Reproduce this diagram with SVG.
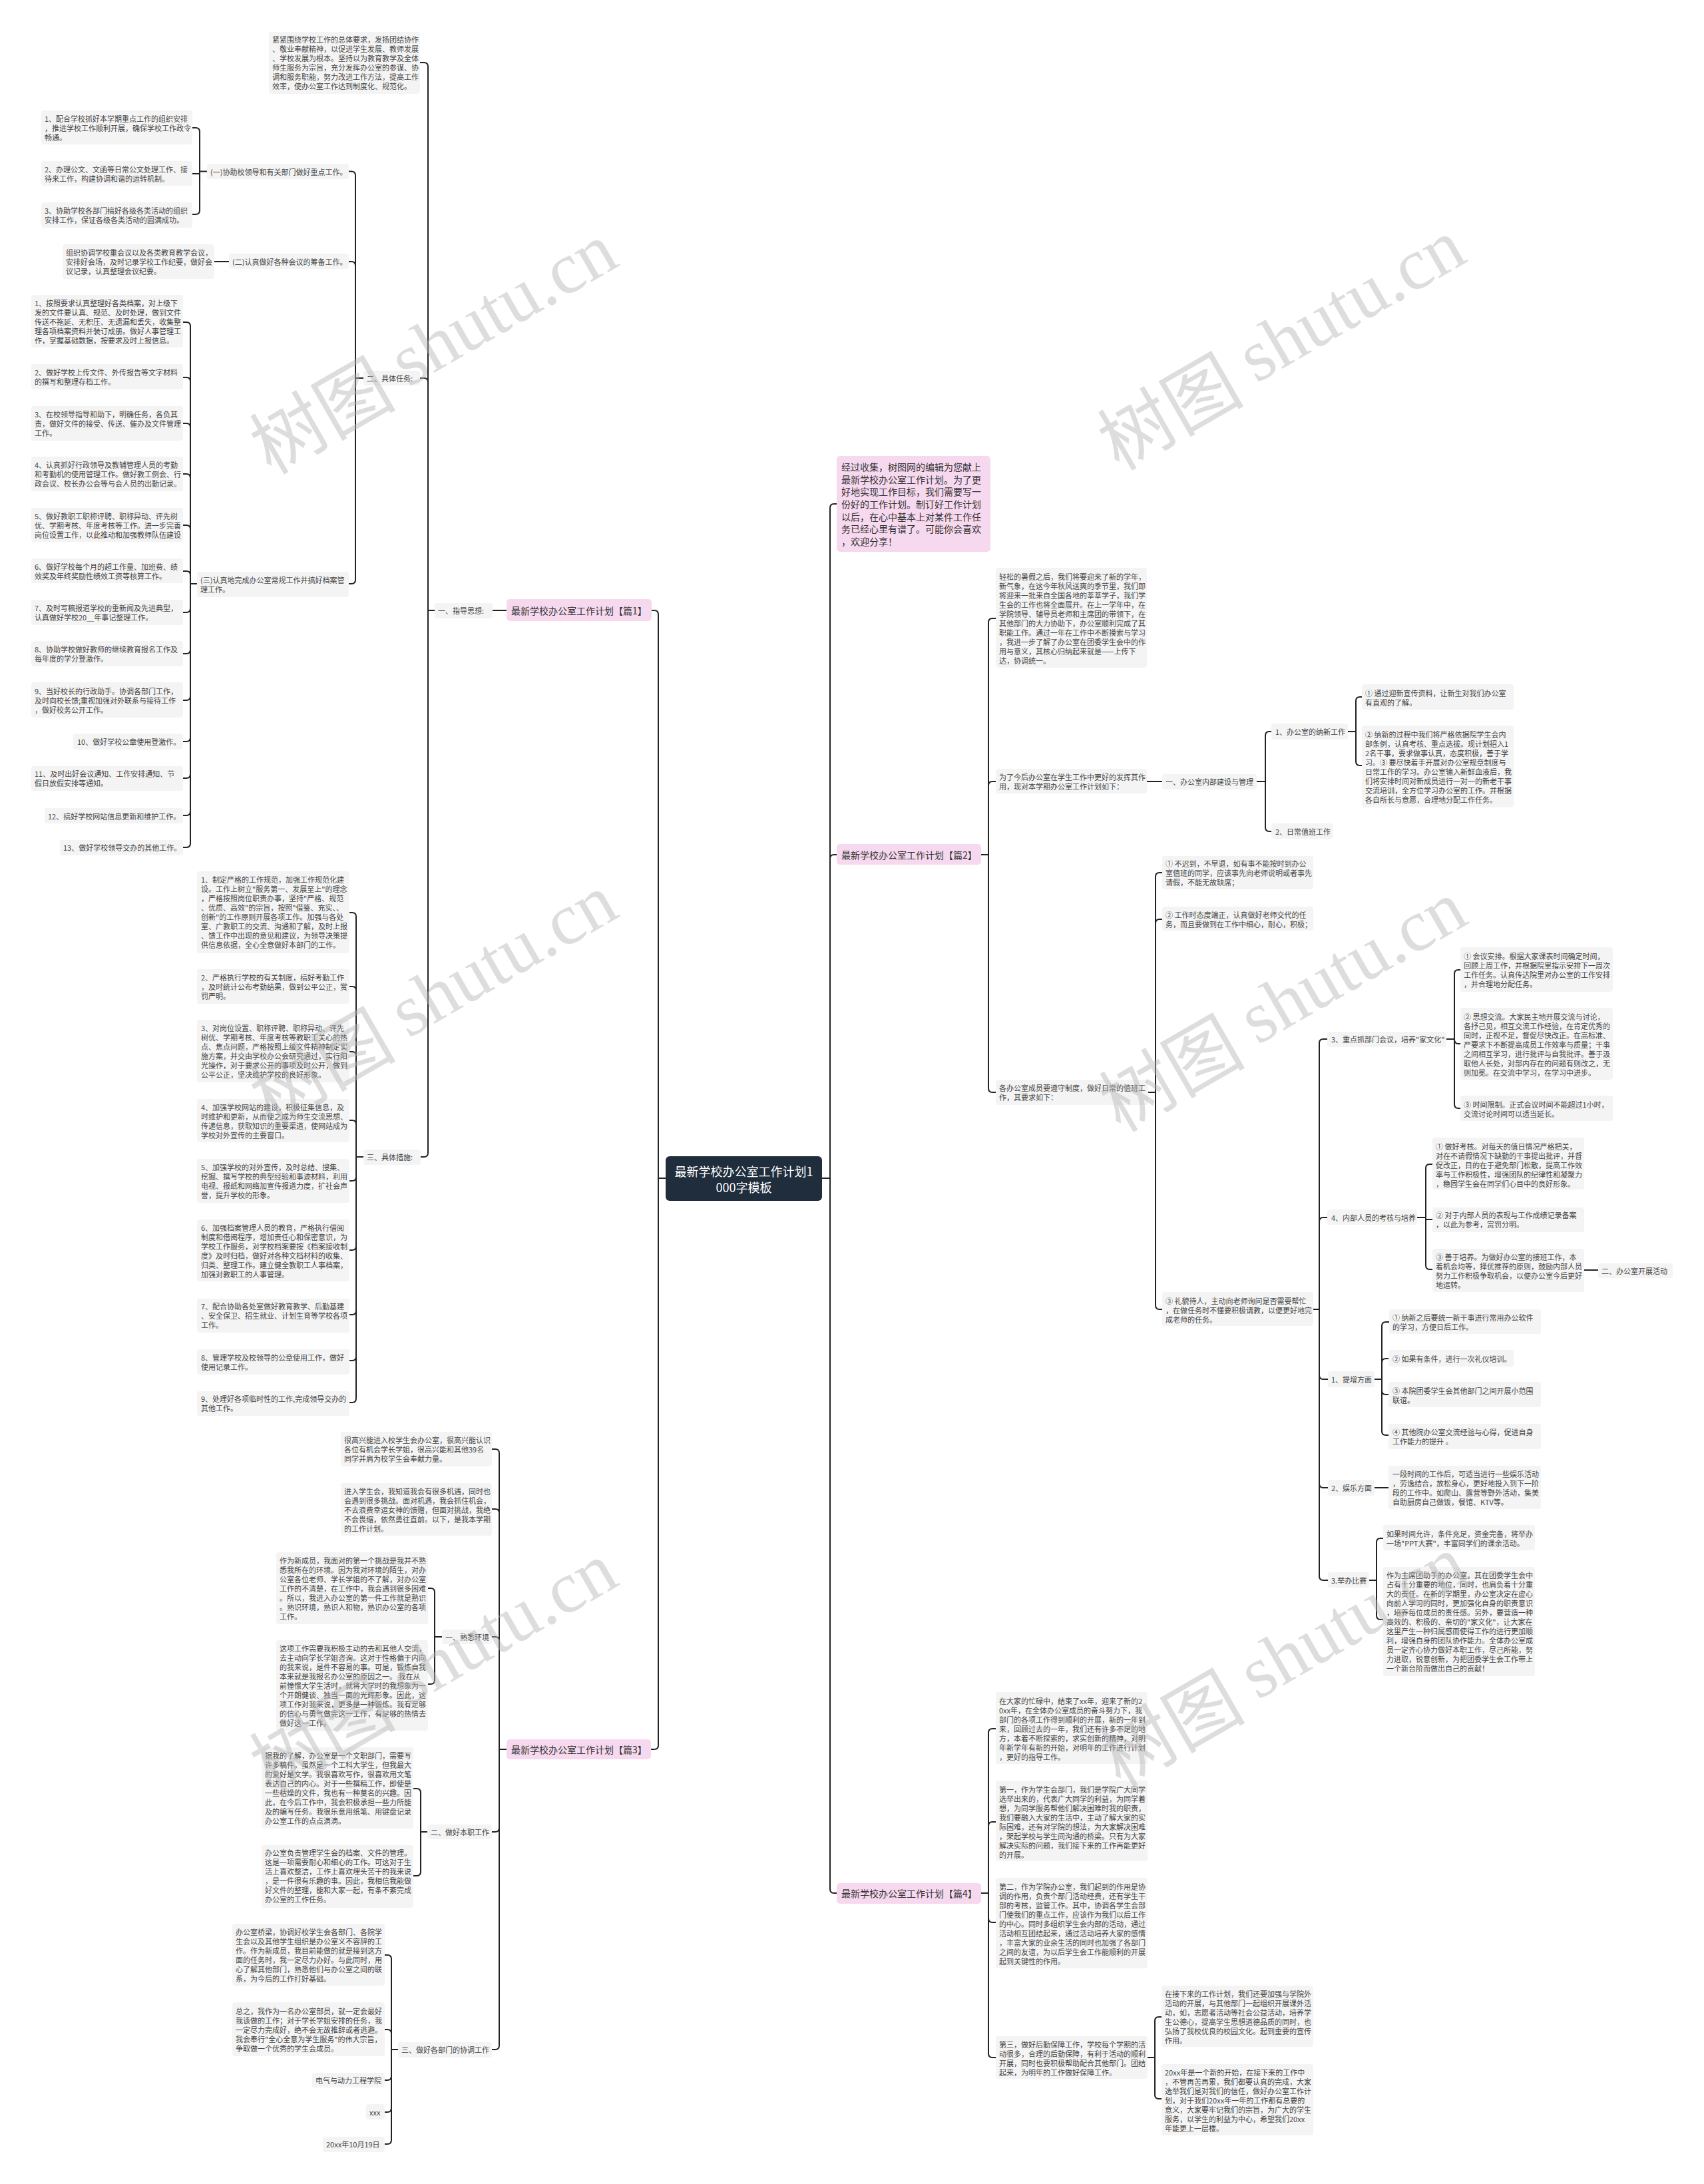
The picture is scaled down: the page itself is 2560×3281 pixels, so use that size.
<svg xmlns="http://www.w3.org/2000/svg" width="2560" height="3281" viewBox="0 0 2560 3281">
<style>
text{font-family:"Noto Sans CJK SC","Noto Sans",sans-serif;dominant-baseline:central}
.t{font-size:11px;fill:#444}
.l{font-size:14px;fill:#333}
.c{font-size:18px;fill:#fff}
.b{fill:#f4f4f4}
.p{fill:#f7d9ef}
.k{fill:#1f2d3c}
.e{fill:none;stroke:#222;stroke-width:2;stroke-linecap:round}
.w{font-size:110px;fill:#b5b5b5;opacity:.45}
.ws{font-family:"Liberation Serif",serif}
</style>
<rect width="2560" height="3281" fill="#fff"/>
<g id="connectors">
<path class="e" d="M1000,1770H989M989,1770V923Q989,917 983,917H979M989,1770V2622Q989,2628 983,2628H978"/>
<path class="e" d="M761,917H740"/>
<path class="e" d="M653,917H643M643,917V100Q643,94 637,94H631M643,917V574Q643,568 637,568H631M643,917V1732Q643,1738 637,1738H632"/>
<path class="e" d="M546,568H534M534,568V263.5Q534,257.5 528,257.5H524M534,568V399Q534,393 528,393H524M534,568V871Q534,877 528,877H524"/>
<path class="e" d="M311,257.5H300M300,257.5V198Q300,192 294,192H289M300,257.5V261H289M300,257.5V316Q300,322 294,322H289"/>
<path class="e" d="M344,393H322"/>
<path class="e" d="M296,877H286M286,877V490Q286,484 280,484H275M286,877V573Q286,567 280,567H275M286,877V642Q286,636 280,636H275M286,877V718Q286,712 280,712H275M286,877V795Q286,789 280,789H275M286,877V864Q286,858 280,858H275M286,877V914Q286,920 280,920H275M286,877V976Q286,982 280,982H275M286,877V1046Q286,1052 280,1052H275M286,877V1108Q286,1114 280,1114H275M286,877V1163Q286,1169 280,1169H275M286,877V1219Q286,1225 280,1225H275M286,877V1267Q286,1273 280,1273H275"/>
<path class="e" d="M546,1738H535M535,1738V1377Q535,1371 529,1371H525M535,1738V1488Q535,1482 529,1482H525M535,1738V1586Q535,1580 529,1580H525M535,1738V1689Q535,1683 529,1683H525M535,1738V1768Q535,1774 529,1774H525M535,1738V1872Q535,1878 529,1878H525M535,1738V1969Q535,1975 529,1975H525M535,1738V2038Q535,2044 529,2044H525M535,1738V2101Q535,2107 529,2107H525"/>
<path class="e" d="M761,2628H750M750,2628V2183Q750,2177 744,2177H739M750,2628V2273Q750,2267 744,2267H739M750,2628V2465Q750,2459 744,2459H739M750,2628V2746Q750,2752 744,2752H739M750,2628V3073Q750,3079 744,3079H739"/>
<path class="e" d="M664,2459H653M653,2459V2392Q653,2386 647,2386H643M653,2459V2524Q653,2530 647,2530H643"/>
<path class="e" d="M642,2752H632M632,2752V2693Q632,2687 626,2687H621M632,2752V2812Q632,2818 626,2818H621"/>
<path class="e" d="M598,3079H588M588,3079V2943Q588,2937 582,2937H578M588,3079V3055Q588,3049 582,3049H578M588,3079V3119Q588,3125 582,3125H578M588,3079V3167Q588,3173 582,3173H578M588,3079V3215Q588,3221 582,3221H578"/>
<path class="e" d="M1235,1770H1247M1247,1770V763Q1247,757 1253,757H1257M1247,1770V1290Q1247,1284 1253,1284H1257M1247,1770V2838Q1247,2844 1253,2844H1257"/>
<path class="e" d="M1474,1284H1485M1485,1284V935Q1485,929 1491,929H1496M1485,1284V1180Q1485,1174 1491,1174H1496M1485,1284V1635Q1485,1641 1491,1641H1496"/>
<path class="e" d="M1723,1174H1746"/>
<path class="e" d="M1888,1174H1901M1901,1174V1105Q1901,1099 1907,1099H1910M1901,1174V1243Q1901,1249 1907,1249H1910"/>
<path class="e" d="M2025,1099H2037M2037,1099V1053Q2037,1047 2043,1047H2046M2037,1099V1144Q2037,1150 2043,1150H2046"/>
<path class="e" d="M1725,1641H1736M1736,1641V1317Q1736,1311 1742,1311H1746M1736,1641V1387Q1736,1381 1742,1381H1746M1736,1641V1961Q1736,1967 1742,1967H1746"/>
<path class="e" d="M1973,1967H1982M1982,1967V1567Q1982,1561 1988,1561H1994M1982,1967V1835Q1982,1829 1988,1829H1994M1982,1967V2066Q1982,2072 1988,2072H1995M1982,1967V2229Q1982,2235 1988,2235H1995M1982,1967V2368Q1982,2374 1988,2374H1995"/>
<path class="e" d="M2173,1561H2185M2185,1561V1463Q2185,1457 2191,1457H2194M2185,1561Q2185,1568 2191,1568H2194M2185,1561V1659Q2185,1665 2191,1665H2194"/>
<path class="e" d="M2129,1829H2142M2142,1829V1755Q2142,1749 2148,1749H2152M2142,1829V1832H2152M2142,1829V1901Q2142,1907 2148,1907H2152"/>
<path class="e" d="M2380,1908H2401"/>
<path class="e" d="M2065,2072H2076M2076,2072V1992Q2076,1986 2082,1986H2087M2076,2072V2047Q2076,2041 2082,2041H2086M2076,2072V2089Q2076,2095 2082,2095H2086M2076,2072V2150Q2076,2156 2082,2156H2086"/>
<path class="e" d="M2065,2235H2086"/>
<path class="e" d="M2057,2374H2068M2068,2374V2317Q2068,2311 2074,2311H2078M2068,2374V2427Q2068,2433 2074,2433H2078"/>
<path class="e" d="M1474,2844H1485M1485,2844V2603Q1485,2597 1491,2597H1496M1485,2844V2743Q1485,2737 1491,2737H1496M1485,2844V2882Q1485,2888 1491,2888H1496M1485,2844V3085Q1485,3091 1491,3091H1496"/>
<path class="e" d="M1724,3091H1735M1735,3091V3036Q1735,3030 1741,3030H1745M1735,3091V3147Q1735,3153 1741,3153H1745"/>
</g>

<g id="center"><rect class="k" x="1000" y="1737" width="235" height="67" rx="6"/><text class="c" text-anchor="middle"><tspan x="1117.5" y="1759">最新学校办公室工作计划1</tspan><tspan x="1117.5" y="1783">000字模板</tspan></text></g>

<!-- 篇1 -->
<g id="p1"><rect class="p" x="761" y="900" width="218" height="33" rx="5"/><text class="l" x="768" y="917">最新学校办公室工作计划【篇1】</text></g>
<g id="p1-guide"><rect class="b" x="653" y="906" width="87" height="23" rx="4"/><text class="t" x="658" y="917">一、指导思想:</text></g>
<g id="p1-guide-text"><rect class="b" x="404" y="48" width="227" height="93" rx="4"/><text class="t"><tspan x="409" y="59">紧紧围绕学校工作的总体要求，发扬团结协作</tspan><tspan x="409" y="73">、敬业奉献精神，以促进学生发展、教师发展</tspan><tspan x="409" y="87">、学校发展为根本。坚持以为教育教学及全体</tspan><tspan x="409" y="101">师生服务为宗旨，充分发挥办公室的参谋、协</tspan><tspan x="409" y="115">调和服务职能，努力改进工作方法，提高工作</tspan><tspan x="409" y="129">效率，使办公室工作达到制度化、规范化。</tspan></text></g>
<g id="p1-task"><rect class="b" x="546" y="557" width="85" height="22" rx="4"/><text class="t" x="551" y="568">二、具体任务:</text></g>
<g id="p1-t1"><rect class="b" x="311" y="246" width="213" height="23" rx="4"/><text class="t" x="316" y="257.5">(一)协助校领导和有关部门做好重点工作。</text></g>
<g id="p1-t1-1"><rect class="b" x="62" y="166" width="227" height="51" rx="4"/><text class="t"><tspan x="67" y="178">1、配合学校抓好本学期重点工作的组织安排</tspan><tspan x="67" y="192">，推进学校工作顺利开展，确保学校工作政令</tspan><tspan x="67" y="206">畅通。</tspan></text></g>
<g id="p1-t1-2"><rect class="b" x="62" y="242" width="227" height="37" rx="4"/><text class="t"><tspan x="67" y="254">2、办理公文、文函等日常公文处理工作、接</tspan><tspan x="67" y="268">待来工作，构建协调和谐的运转机制。</tspan></text></g>
<g id="p1-t1-3"><rect class="b" x="62" y="304" width="227" height="38" rx="4"/><text class="t"><tspan x="67" y="316">3、协助学校各部门搞好各级各类活动的组织</tspan><tspan x="67" y="330">安排工作，保证各级各类活动的圆满成功。</tspan></text></g>
<g id="p1-t2"><rect class="b" x="344" y="381" width="180" height="23" rx="4"/><text class="t" x="349" y="393">(二)认真做好各种会议的筹备工作。</text></g>
<g id="p1-t2-1"><rect class="b" x="94" y="367" width="228" height="52" rx="4"/><text class="t"><tspan x="99" y="379">组织协调学校重会议以及各类教育教学会议，</tspan><tspan x="99" y="393">安排好会场，及时记录学校工作纪要，做好会</tspan><tspan x="99" y="407">议记录，认真整理会议纪要。</tspan></text></g>
<g id="p1-t3"><rect class="b" x="296" y="859" width="228" height="38" rx="4"/><text class="t"><tspan x="301" y="871">(三)认真地完成办公室常规工作并搞好档案管</tspan><tspan x="301" y="885">理工作。</tspan></text></g>
<g id="p1-t3-1"><rect class="b" x="47" y="443" width="228" height="79" rx="4"/><text class="t"><tspan x="52" y="455">1、按照要求认真整理好各类档案，对上级下</tspan><tspan x="52" y="469">发的文件要认真、规范、及时处理，做到文件</tspan><tspan x="52" y="483">传送不拖延、无积压、无遗漏和丢失，收集整</tspan><tspan x="52" y="497">理各项档案资料并装订成册。做好人事管理工</tspan><tspan x="52" y="511">作，掌握基础数据，按要求及时上报信息。</tspan></text></g>
<g id="p1-t3-2"><rect class="b" x="47" y="547" width="228" height="38" rx="4"/><text class="t"><tspan x="52" y="559">2、做好学校上传文件、外传报告等文字材料</tspan><tspan x="52" y="573">的撰写和整理存档工作。</tspan></text></g>
<g id="p1-t3-3"><rect class="b" x="47" y="610" width="228" height="52" rx="4"/><text class="t"><tspan x="52" y="622">3、在校领导指导和助下，明确任务，各负其</tspan><tspan x="52" y="636">责，做好文件的接受、传送、催办及文件管理</tspan><tspan x="52" y="650">工作。</tspan></text></g>
<g id="p1-t3-4"><rect class="b" x="47" y="686" width="228" height="52" rx="4"/><text class="t"><tspan x="52" y="698">4、认真抓好行政领导及教辅管理人员的考勤</tspan><tspan x="52" y="712">和考勤机的使用管理工作。做好教工例会、行</tspan><tspan x="52" y="726">政会议、校长办公会等与会人员的出勤记录。</tspan></text></g>
<g id="p1-t3-5"><rect class="b" x="47" y="763" width="228" height="51" rx="4"/><text class="t"><tspan x="52" y="775">5、做好教职工职称评聘、职称异动、评先树</tspan><tspan x="52" y="789">优、学期考核、年度考核等工作。进一步完善</tspan><tspan x="52" y="803">岗位设置工作，以此推动和加强教师队伍建设</tspan></text></g>
<g id="p1-t3-6"><rect class="b" x="47" y="839" width="228" height="37" rx="4"/><text class="t"><tspan x="52" y="851">6、做好学校每个月的超工作量、加班费、绩</tspan><tspan x="52" y="865">效奖及年终奖励性绩效工资等核算工作。</tspan></text></g>
<g id="p1-t3-7"><rect class="b" x="47" y="901" width="228" height="38" rx="4"/><text class="t"><tspan x="52" y="913">7、及时写稿报道学校的重新闻及先进典型，</tspan><tspan x="52" y="927">认真做好学校20＿年事记整理工作。</tspan></text></g>
<g id="p1-t3-8"><rect class="b" x="47" y="963" width="228" height="38" rx="4"/><text class="t"><tspan x="52" y="975">8、协助学校做好教师的继续教育报名工作及</tspan><tspan x="52" y="989">每年度的学分登激作。</tspan></text></g>
<g id="p1-t3-9"><rect class="b" x="47" y="1025" width="228" height="53" rx="4"/><text class="t"><tspan x="52" y="1038">9、当好校长的行政助手。协调各部门工作，</tspan><tspan x="52" y="1052">及时向校长馈;重视加强对外联系与接待工作</tspan><tspan x="52" y="1066">，做好校务公开工作。</tspan></text></g>
<g id="p1-t3-10"><rect class="b" x="110" y="1102" width="165" height="24" rx="4"/><text class="t" x="116" y="1114">10、做好学校公章使用登激作。</text></g>
<g id="p1-t3-11"><rect class="b" x="47" y="1151" width="228" height="37" rx="4"/><text class="t"><tspan x="52" y="1162">11、及时出好会议通知、工作安排通知、节</tspan><tspan x="52" y="1176">假日放假安排等通知。</tspan></text></g>
<g id="p1-t3-12"><rect class="b" x="67" y="1214" width="208" height="23" rx="4"/><text class="t" x="72" y="1225.5">12、搞好学校网站信息更新和维护工作。</text></g>
<g id="p1-t3-13"><rect class="b" x="90" y="1262" width="185" height="23" rx="4"/><text class="t" x="95" y="1273">13、做好学校领导交办的其他工作。</text></g>
<g id="p1-measure"><rect class="b" x="546" y="1727" width="86" height="23" rx="4"/><text class="t" x="551" y="1738">三、具体措施:</text></g>
<g id="p1-m1"><rect class="b" x="296" y="1309" width="229" height="123" rx="4"/><text class="t"><tspan x="302" y="1321">1、制定严格的工作规范，加强工作规范化建</tspan><tspan x="302" y="1335">设。工作上树立"服务第一、发展至上"的理念</tspan><tspan x="302" y="1349">，严格按照岗位职责办事，坚持"严格、规范</tspan><tspan x="302" y="1363">、优质、高效"的宗旨，按照"借鉴、充实、、</tspan><tspan x="302" y="1377">创新"的工作原则开展各项工作。加强与各处</tspan><tspan x="302" y="1391">室、广教职工的交流、沟通和了解，及时上报</tspan><tspan x="302" y="1405">、馈工作中出现的意见和建议，为领导决策提</tspan><tspan x="302" y="1419">供信息依据，全心全意做好本部门的工作。</tspan></text></g>
<g id="p1-m2"><rect class="b" x="296" y="1456" width="229" height="52" rx="4"/><text class="t"><tspan x="302" y="1468">2、严格执行学校的有关制度，搞好考勤工作</tspan><tspan x="302" y="1482">，及时统计公布考勤结果，做到公平公正，赏</tspan><tspan x="302" y="1496">罚严明。</tspan></text></g>
<g id="p1-m3"><rect class="b" x="296" y="1532" width="229" height="94" rx="4"/><text class="t"><tspan x="302" y="1544">3、对岗位设置、职称评聘、职称异动、评先</tspan><tspan x="302" y="1558">树优、学期考核、年度考核等教职工关心的热</tspan><tspan x="302" y="1572">点、焦点问题，严格按照上级文件精神制定实</tspan><tspan x="302" y="1586">施方案，并交由学校办公会研究通过，实行阳</tspan><tspan x="302" y="1600">光操作，对于要求公开的事项及时公开，做到</tspan><tspan x="302" y="1614">公平公正，坚决维护学校的良好形象。</tspan></text></g>
<g id="p1-m4"><rect class="b" x="296" y="1651" width="229" height="65" rx="4"/><text class="t"><tspan x="302" y="1663">4、加强学校网站的建设，积极征集信息，及</tspan><tspan x="302" y="1677">时维护和更新，从而使之成为师生交流思想、</tspan><tspan x="302" y="1691">传递信息，获取知识的重要渠道，使网站成为</tspan><tspan x="302" y="1705">学校对外宣传的主要窗口。</tspan></text></g>
<g id="p1-m5"><rect class="b" x="296" y="1741" width="229" height="66" rx="4"/><text class="t"><tspan x="302" y="1753">5、加强学校的对外宣传，及时总结、搜集、</tspan><tspan x="302" y="1767">挖掘、撰写学校的典型经验和事迹材料，利用</tspan><tspan x="302" y="1781">电视、报纸和网络加宣传报道力度，扩社会声</tspan><tspan x="302" y="1795">誉，提升学校的形象。</tspan></text></g>
<g id="p1-m6"><rect class="b" x="296" y="1832" width="229" height="93" rx="4"/><text class="t"><tspan x="302" y="1844">6、加强档案管理人员的教育，严格执行借阅</tspan><tspan x="302" y="1858">制度和借阅程序，增加责任心和保密意识，为</tspan><tspan x="302" y="1872">学校工作服务，对学校档案要按《档案接收制</tspan><tspan x="302" y="1886">度》及时归档，做好对各种文档材料的收集、</tspan><tspan x="302" y="1900">归类、整理工作。建立健全教职工人事档案，</tspan><tspan x="302" y="1914">加强对教职工的人事管理。</tspan></text></g>
<g id="p1-m7"><rect class="b" x="296" y="1951" width="229" height="51" rx="4"/><text class="t"><tspan x="302" y="1962">7、配合协助各处室做好教育教学、后勤基建</tspan><tspan x="302" y="1976">、安全保卫、招生就业、计划生育等学校各项</tspan><tspan x="302" y="1990">工作。</tspan></text></g>
<g id="p1-m8"><rect class="b" x="296" y="2027" width="229" height="38" rx="4"/><text class="t"><tspan x="302" y="2039">8、管理学校及校领导的公章使用工作，做好</tspan><tspan x="302" y="2053">使用记录工作。</tspan></text></g>
<g id="p1-m9"><rect class="b" x="296" y="2090" width="229" height="37" rx="4"/><text class="t"><tspan x="302" y="2101">9、处理好各项临时性的工作,完成领导交办的</tspan><tspan x="302" y="2115">其他工作。</tspan></text></g>

<!-- 篇3 -->
<g id="p3"><rect class="p" x="761" y="2613" width="217" height="30" rx="5"/><text class="l" x="768" y="2628">最新学校办公室工作计划【篇3】</text></g>
<g id="p3-a"><rect class="b" x="512" y="2151" width="227" height="52" rx="4"/><text class="t"><tspan x="517" y="2163">很高兴能进入校学生会办公室，很高兴能认识</tspan><tspan x="517" y="2177">各位有机会学长学姐，很高兴能和其他39名</tspan><tspan x="517" y="2191">同学并肩为校学生会奉献力量。</tspan></text></g>
<g id="p3-b"><rect class="b" x="512" y="2228" width="227" height="79" rx="4"/><text class="t"><tspan x="517" y="2240">进入学生会，我知道我会有很多机遇，同时也</tspan><tspan x="517" y="2254">会遇到很多挑战。面对机遇，我会抓住机会，</tspan><tspan x="517" y="2268">不去浪费幸运女神的馈赠，但面对挑战，我绝</tspan><tspan x="517" y="2282">不会畏缩，依然勇往直前。以下，是我本学期</tspan><tspan x="517" y="2296">的工作计划。</tspan></text></g>
<g id="p3-s1"><rect class="b" x="664" y="2448" width="75" height="22" rx="4"/><text class="t" x="669" y="2459">一、熟悉环境</text></g>
<g id="p3-s1-a"><rect class="b" x="415" y="2332" width="228" height="108" rx="4"/><text class="t"><tspan x="420" y="2344">作为新成员，我面对的第一个挑战是我并不熟</tspan><tspan x="420" y="2358">悉我所在的环境。因为我对环境的陌生，对办</tspan><tspan x="420" y="2372">公室各位老师、学长学姐的不了解，对办公室</tspan><tspan x="420" y="2386">工作的不清楚，在工作中，我会遇到很多困难</tspan><tspan x="420" y="2400">。所以，我进入办公室的第一件工作就是熟识</tspan><tspan x="420" y="2414">。熟识环境，熟识人和物，熟识办公室的各项</tspan><tspan x="420" y="2428">工作。</tspan></text></g>
<g id="p3-s1-b"><rect class="b" x="415" y="2464" width="228" height="136" rx="4"/><text class="t"><tspan x="420" y="2476">这项工作需要我积极主动的去和其他人交流，</tspan><tspan x="420" y="2490">去主动向学长学姐咨询。这对于性格偏于内向</tspan><tspan x="420" y="2504">的我来说，是件不容易的事。可是，锻炼自我</tspan><tspan x="420" y="2518">本来就是我报名办公室的原因之一。 我在从</tspan><tspan x="420" y="2532">前憧憬大学生活时，就将大学时的我想象为一</tspan><tspan x="420" y="2546">个开朗健谈、独当一面的光辉形象。因此，这</tspan><tspan x="420" y="2560">项工作对我来说，更多是一种锻炼。我有足够</tspan><tspan x="420" y="2574">的信心与勇气做完这一工作，有足够的热情去</tspan><tspan x="420" y="2588">做好这一工作。</tspan></text></g>
<g id="p3-s2"><rect class="b" x="642" y="2741" width="97" height="22" rx="4"/><text class="t" x="647" y="2752">二、做好本职工作</text></g>
<g id="p3-s2-a"><rect class="b" x="393" y="2625" width="228" height="122" rx="4"/><text class="t"><tspan x="398" y="2637">据我的了解，办公室是一个文职部门，需要写</tspan><tspan x="398" y="2651">许多稿件。虽然是一个工科大学生，但我最大</tspan><tspan x="398" y="2665">的爱好是文学。我很喜欢写作，很喜欢用文笔</tspan><tspan x="398" y="2679">表达自己的内心。对于一些撰稿工作，即使是</tspan><tspan x="398" y="2693">一些枯燥的文件，我也有一种莫名的兴趣。因</tspan><tspan x="398" y="2707">此，在今后工作中，我会积极承担一些力所能</tspan><tspan x="398" y="2721">及的编写任务。我很乐意用纸笔、用键盘记录</tspan><tspan x="398" y="2735">办公室工作的点点滴滴。</tspan></text></g>
<g id="p3-s2-b"><rect class="b" x="393" y="2772" width="228" height="94" rx="4"/><text class="t"><tspan x="398" y="2783">办公室负责管理学生会的档案、文件的管理。</tspan><tspan x="398" y="2797">这是一项需要耐心和细心的工作。可这对于生</tspan><tspan x="398" y="2811">活上喜欢整洁，工作上喜欢埋头苦干的我来说</tspan><tspan x="398" y="2825">，是一件很有乐趣的事。因此，我相信我能做</tspan><tspan x="398" y="2839">好文件的整理，能和大家一起，有条不紊完成</tspan><tspan x="398" y="2853">办公室的工作任务。</tspan></text></g>
<g id="p3-s3"><rect class="b" x="598" y="3068" width="141" height="23" rx="4"/><text class="t" x="603" y="3079">三、做好各部门的协调工作</text></g>
<g id="p3-s3-a"><rect class="b" x="349" y="2890" width="229" height="93" rx="4"/><text class="t"><tspan x="354" y="2902">办公室桥梁，协调好校学生会各部门、各院学</tspan><tspan x="354" y="2916">生会以及其他学生组织是办公室义不容辞的工</tspan><tspan x="354" y="2930">作。作为新成员，我目前能做的就是接到这方</tspan><tspan x="354" y="2944">面的任务时，我一定尽力办好。与此同时，用</tspan><tspan x="354" y="2958">心了解其他部门，熟悉他们与办公室之间的联</tspan><tspan x="354" y="2972">系，为今后的工作打好基础。</tspan></text></g>
<g id="p3-s3-b"><rect class="b" x="349" y="3008" width="229" height="81" rx="4"/><text class="t"><tspan x="354" y="3021">总之，我作为一名办公室部员，就一定会最好</tspan><tspan x="354" y="3035">我该做的工作；对于学长学姐安排的任务，我</tspan><tspan x="354" y="3049">一定尽力完成好，绝不会无故推辞或者逃避。</tspan><tspan x="354" y="3063">我会奉行"全心全意为学生服务"的伟大宗旨，</tspan><tspan x="354" y="3077">争取做一个优秀的学生会成员。</tspan></text></g>
<g id="p3-s3-c"><rect class="b" x="469" y="3114" width="109" height="22" rx="4"/><text class="t" x="474" y="3125">电气与动力工程学院</text></g>
<g id="p3-s3-d"><rect class="b" x="550" y="3161" width="28" height="23" rx="4"/><text class="t" x="555" y="3173">xxx</text></g>
<g id="p3-s3-e"><rect class="b" x="485" y="3210" width="93" height="23" rx="4"/><text class="t" x="490" y="3221">20xx年10月19日</text></g>

<!-- right -->
<g id="intro"><rect class="p" x="1257" y="685" width="231" height="144" rx="5"/><text class="l"><tspan x="1264" y="701">经过收集，树图网的编辑为您献上</tspan><tspan x="1264" y="720">最新学校办公室工作计划。为了更</tspan><tspan x="1264" y="738">好地实现工作目标，我们需要写一</tspan><tspan x="1264" y="757">份好的工作计划。制订好工作计划</tspan><tspan x="1264" y="776">以后，在心中基本上对某件工作任</tspan><tspan x="1264" y="794">务已经心里有谱了。可能你会喜欢</tspan><tspan x="1264" y="813">，欢迎分享！</tspan></text></g>

<g id="p2"><rect class="p" x="1257" y="1268" width="217" height="31" rx="5"/><text class="l" x="1264" y="1284">最新学校办公室工作计划【篇2】</text></g>
<g id="p2-a"><rect class="b" x="1496" y="853" width="227" height="150" rx="4"/><text class="t"><tspan x="1501" y="866">轻松的暑假之后，我们将要迎来了新的学年，</tspan><tspan x="1501" y="880">新气象，在这今年秋风送爽的季节里，我们即</tspan><tspan x="1501" y="894">将迎来一批来自全国各地的莘莘学子，我们学</tspan><tspan x="1501" y="908">生会的工作也将全面展开。在上一学年中，在</tspan><tspan x="1501" y="922">学院领导、辅导员老师和主席团的带领下，在</tspan><tspan x="1501" y="936">其他部门的大力协助下，办公室顺利完成了其</tspan><tspan x="1501" y="950">职能工作。通过一年在工作中不断摸索与学习</tspan><tspan x="1501" y="964">，我进一步了解了办公室在团委学生会中的作</tspan><tspan x="1501" y="978">用与意义，其核心归纳起来就是——上传下</tspan><tspan x="1501" y="992">达，协调统一。</tspan></text></g>
<g id="p2-b"><rect class="b" x="1496" y="1155" width="227" height="37" rx="4"/><text class="t"><tspan x="1501" y="1167">为了今后办公室在学生工作中更好的发挥其作</tspan><tspan x="1501" y="1181">用，现对本学期办公室工作计划如下：</tspan></text></g>
<g id="p2-b1"><rect class="b" x="1746" y="1163" width="142" height="23" rx="4"/><text class="t" x="1751" y="1174">一、办公室内部建设与管理</text></g>
<g id="p2-b1-1"><rect class="b" x="1910" y="1087" width="115" height="24" rx="4"/><text class="t" x="1916" y="1099">1、办公室的纳新工作</text></g>
<g id="p2-b1-1a"><rect class="b" x="2046" y="1028" width="228" height="38" rx="4"/><text class="t"><tspan x="2051" y="1041">① 通过迎新宣传资料，让新生对我们办公室</tspan><tspan x="2051" y="1055">有直观的了解。</tspan></text></g>
<g id="p2-b1-1b"><rect class="b" x="2046" y="1090" width="228" height="123" rx="4"/><text class="t"><tspan x="2051" y="1103">② 纳新的过程中我们将严格依据院学生会内</tspan><tspan x="2051" y="1117">部条例，认真考核、重点选拔。现计划招入1</tspan><tspan x="2051" y="1131">2名干事，要求做事认真，态度积极，善于学</tspan><tspan x="2051" y="1145">习。③ 要尽快着手开展对办公室规章制度与</tspan><tspan x="2051" y="1159">日常工作的学习。办公室输入新鲜血液后，我</tspan><tspan x="2051" y="1173">们将安排时间对新成员进行一对一的新老干事</tspan><tspan x="2051" y="1187">交流培训，全方位学习办公室的工作。并根据</tspan><tspan x="2051" y="1201">各自所长与意愿，合理地分配工作任务。</tspan></text></g>
<g id="p2-b1-2"><rect class="b" x="1910" y="1237" width="93" height="23" rx="4"/><text class="t" x="1916" y="1249">2、日常值班工作</text></g>
<g id="p2-c"><rect class="b" x="1496" y="1622" width="229" height="38" rx="4"/><text class="t"><tspan x="1501" y="1634">各办公室成员要遵守制度，做好日常的值班工</tspan><tspan x="1501" y="1648">作，其要求如下：</tspan></text></g>
<g id="p2-c1"><rect class="b" x="1746" y="1286" width="227" height="50" rx="4"/><text class="t"><tspan x="1751" y="1297">① 不迟到，不早退，如有事不能按时到办公</tspan><tspan x="1751" y="1311">室值班的同学，应该事先向老师说明或者事先</tspan><tspan x="1751" y="1325">请假，不能无故缺席；</tspan></text></g>
<g id="p2-c2"><rect class="b" x="1746" y="1362" width="227" height="36" rx="4"/><text class="t"><tspan x="1751" y="1374">② 工作时态度端正，认真做好老师交代的任</tspan><tspan x="1751" y="1388">务，而且要做到在工作中细心，耐心，积极；</tspan></text></g>
<g id="p2-c3"><rect class="b" x="1746" y="1941" width="227" height="51" rx="4"/><text class="t"><tspan x="1751" y="1954">③ 礼貌待人，主动向老师询问是否需要帮忙</tspan><tspan x="1751" y="1968">，在做任务时不懂要积极请教，以便更好地完</tspan><tspan x="1751" y="1982">成老师的任务。</tspan></text></g>
<g id="p2-k3"><rect class="b" x="1994" y="1550" width="179" height="23" rx="4"/><text class="t" x="2000" y="1561">3、重点抓部门会议，培养"家文化"</text></g>
<g id="p2-k3a"><rect class="b" x="2194" y="1423" width="229" height="67" rx="4"/><text class="t"><tspan x="2199" y="1436">① 会议安排。根据大家课表时间确定时间，</tspan><tspan x="2199" y="1450">回顾上周工作，并根据院里指示安排下一周次</tspan><tspan x="2199" y="1464">工作任务。认真传达院里对办公室的工作安排</tspan><tspan x="2199" y="1478">，并合理地分配任务。</tspan></text></g>
<g id="p2-k3b"><rect class="b" x="2194" y="1514" width="229" height="108" rx="4"/><text class="t"><tspan x="2199" y="1527">②  思想交流。大家民主地开展交流与讨论，</tspan><tspan x="2199" y="1541">各抒己见，相互交流工作经验，在肯定优秀的</tspan><tspan x="2199" y="1555">同时，正视不足，督促尽快改正。在高标准、</tspan><tspan x="2199" y="1569">严要求下不断提高成员工作效率与质量；干事</tspan><tspan x="2199" y="1583">之间相互学习，进行批评与自我批评。善于汲</tspan><tspan x="2199" y="1597">取他人长处，对部内存在的问题有则改之，无</tspan><tspan x="2199" y="1611">则加冕。在交流中学习，在学习中进步。</tspan></text></g>
<g id="p2-k3c"><rect class="b" x="2194" y="1646" width="229" height="38" rx="4"/><text class="t"><tspan x="2199" y="1659">③ 时间限制。正式会议时间不能超过1小时，</tspan><tspan x="2199" y="1673">交流讨论时间可以适当延长。</tspan></text></g>
<g id="p2-k4"><rect class="b" x="1994" y="1817" width="135" height="23" rx="4"/><text class="t" x="2000" y="1829">4、内部人员的考核与培养</text></g>
<g id="p2-k4a"><rect class="b" x="2152" y="1709" width="228" height="78" rx="4"/><text class="t"><tspan x="2157" y="1722">① 做好考核。对每天的值日情况严格把关，</tspan><tspan x="2157" y="1736">对在不请假情况下缺勤的干事提出批评，并督</tspan><tspan x="2157" y="1750">促改正，目的在于避免部门松散，提高工作效</tspan><tspan x="2157" y="1764">率与工作积极性，增强团队的纪律性和凝聚力</tspan><tspan x="2157" y="1778">，稳固学生会在同学们心目中的良好形象。</tspan></text></g>
<g id="p2-k4b"><rect class="b" x="2152" y="1814" width="228" height="37" rx="4"/><text class="t"><tspan x="2157" y="1825">② 对于内部人员的表现与工作成绩记录备案</tspan><tspan x="2157" y="1839">，以此为参考，赏罚分明。</tspan></text></g>
<g id="p2-k4c"><rect class="b" x="2152" y="1876" width="228" height="65" rx="4"/><text class="t"><tspan x="2157" y="1888">③ 善于培养。为做好办公室的接班工作，本</tspan><tspan x="2157" y="1902">着机会均等，择优推荐的原则，鼓励内部人员</tspan><tspan x="2157" y="1916">努力工作积极争取机会，以便办公室今后更好</tspan><tspan x="2157" y="1930">地运转。</tspan></text></g>
<g id="p2-act"><rect class="b" x="2401" y="1898" width="112" height="22" rx="4"/><text class="t" x="2406" y="1909">二、办公室开展活动</text></g>
<g id="p2-e1"><rect class="b" x="1995" y="2060" width="70" height="24" rx="4"/><text class="t" x="2000" y="2072">1、提增方面</text></g>
<g id="p2-e1a"><rect class="b" x="2087" y="1967" width="228" height="37" rx="4"/><text class="t"><tspan x="2092" y="1979">① 纳新之后要统一新干事进行常用办公软件</tspan><tspan x="2092" y="1993">的学习，方便日后工作。</tspan></text></g>
<g id="p2-e1b"><rect class="b" x="2086" y="2028" width="188" height="25" rx="4"/><text class="t" x="2092" y="2040.5">② 如果有条件，进行一次礼仪培训。</text></g>
<g id="p2-e1c"><rect class="b" x="2086" y="2076" width="229" height="38" rx="4"/><text class="t"><tspan x="2092" y="2089">③ 本院团委学生会其他部门之间开展小范围</tspan><tspan x="2092" y="2103">联谊。</tspan></text></g>
<g id="p2-e1d"><rect class="b" x="2086" y="2139" width="229" height="38" rx="4"/><text class="t"><tspan x="2092" y="2151">④ 其他院办公室交流经验与心得，促进自身</tspan><tspan x="2092" y="2165">工作能力的提升 。</tspan></text></g>
<g id="p2-e2"><rect class="b" x="1995" y="2223" width="70" height="24" rx="4"/><text class="t" x="2000" y="2235">2、娱乐方面</text></g>
<g id="p2-e2a"><rect class="b" x="2086" y="2202" width="229" height="65" rx="4"/><text class="t"><tspan x="2092" y="2214">一段时间的工作后，可适当进行一些娱乐活动</tspan><tspan x="2092" y="2228">，劳逸结合，放松身心，更好地投入到下一阶</tspan><tspan x="2092" y="2242">段的工作中。如爬山、露营等野外活动，集美</tspan><tspan x="2092" y="2256">自助厨房自己做饭，餐馆、KTV等。</tspan></text></g>
<g id="p2-e3"><rect class="b" x="1995" y="2362" width="62" height="23" rx="4"/><text class="t" x="2000" y="2374">3.举办比赛</text></g>
<g id="p2-e3a"><rect class="b" x="2078" y="2291" width="228" height="38" rx="4"/><text class="t"><tspan x="2083" y="2304">如果时间允许，条件充足，资金完备，将举办</tspan><tspan x="2083" y="2318">一场"PPT大赛"，丰富同学们的课余活动。</tspan></text></g>
<g id="p2-e3b"><rect class="b" x="2078" y="2354" width="228" height="164" rx="4"/><text class="t"><tspan x="2083" y="2366">作为主席团助手的办公室，其在团委学生会中</tspan><tspan x="2083" y="2380">占有十分重要的地位，同时，也肩负着十分重</tspan><tspan x="2083" y="2394">大的责任。在新的学期里，办公室决定在虚心</tspan><tspan x="2083" y="2408">向前人学习的同时，更加强化自身的职责意识</tspan><tspan x="2083" y="2422">，培养每位成员的责任感。另外，要营造一种</tspan><tspan x="2083" y="2436">高效的、积极的、亲切的"家文化"，让大家在</tspan><tspan x="2083" y="2450">这里产生一种归属感而使得工作的进行更加顺</tspan><tspan x="2083" y="2464">利，增强自身的团队协作能力。全体办公室成</tspan><tspan x="2083" y="2478">员一定齐心协力做好本职工作，尽己所能，努</tspan><tspan x="2083" y="2492">力进取，锐意创新，为把团委学生会工作带上</tspan><tspan x="2083" y="2506">一个新台阶而做出自己的贡献！</tspan></text></g>

<g id="p4"><rect class="p" x="1257" y="2829" width="217" height="31" rx="5"/><text class="l" x="1264" y="2844">最新学校办公室工作计划【篇4】</text></g>
<g id="p4-a"><rect class="b" x="1496" y="2542" width="228" height="108" rx="4"/><text class="t"><tspan x="1501" y="2555">在大家的忙碌中，结束了xx年，迎来了新的2</tspan><tspan x="1501" y="2569">0xx年，在全体办公室成员的奋斗努力下，我</tspan><tspan x="1501" y="2583">部门的各项工作得到顺利的开展，新的一年到</tspan><tspan x="1501" y="2597">来，回顾过去的一年，我们还有许多不足的地</tspan><tspan x="1501" y="2611">方，本着不断探索的，求实创新的精神，对明</tspan><tspan x="1501" y="2625">年新学年有新的开始，对明年的工作进行计划</tspan><tspan x="1501" y="2639">，更好的指导工作。</tspan></text></g>
<g id="p4-b"><rect class="b" x="1496" y="2675" width="228" height="121" rx="4"/><text class="t"><tspan x="1501" y="2688">第一，作为学生会部门，我们是学院广大同学</tspan><tspan x="1501" y="2702">选举出来的，代表广大同学的利益，为同学着</tspan><tspan x="1501" y="2716">想，为同学服务帮他们解决困难时我的职责，</tspan><tspan x="1501" y="2730">我们要融入大家的生活中，主动了解大家的实</tspan><tspan x="1501" y="2744">际困难，还有对学院的想法，为大家解决困难</tspan><tspan x="1501" y="2758">，架起学校与学生间沟通的桥梁。只有为大家</tspan><tspan x="1501" y="2772">解决实际的问题，我们接下来的工作再能更好</tspan><tspan x="1501" y="2786">的开展。</tspan></text></g>
<g id="p4-c"><rect class="b" x="1496" y="2821" width="228" height="136" rx="4"/><text class="t"><tspan x="1501" y="2834">第二，作为学院办公室，我们起到的作用是协</tspan><tspan x="1501" y="2848">调的作用，负责个部门活动经费，还有学生干</tspan><tspan x="1501" y="2862">部的考核，监管工作。其中，协调各学生会部</tspan><tspan x="1501" y="2876">门使我们的重点工作，应该作为我们以后工作</tspan><tspan x="1501" y="2890">的中心。同时多组织学生会内部的活动，通过</tspan><tspan x="1501" y="2904">活动相互团结起来，通过活动培养大家的感情</tspan><tspan x="1501" y="2918">，丰富大家的业余生活的同时也加强了各部门</tspan><tspan x="1501" y="2932">之间的友谊，为以后学生会工作能顺利的开展</tspan><tspan x="1501" y="2946">起到关键性的作用。</tspan></text></g>
<g id="p4-d"><rect class="b" x="1496" y="3059" width="228" height="64" rx="4"/><text class="t"><tspan x="1501" y="3071">第三，做好后勤保障工作，学校每个学期的活</tspan><tspan x="1501" y="3085">动很多，合理的后勤保障，有利于活动的顺利</tspan><tspan x="1501" y="3099">开展，同时也要积极帮助配合其他部门。团结</tspan><tspan x="1501" y="3113">起来，为明年的工作做好保障工作。</tspan></text></g>
<g id="p4-d1"><rect class="b" x="1745" y="2983" width="228" height="92" rx="4"/><text class="t"><tspan x="1750" y="2995">在接下来的工作计划，我们还要加强与学院外</tspan><tspan x="1750" y="3009">活动的开展，与其他部门一起组织开展课外活</tspan><tspan x="1750" y="3023">动，如，志愿者活动等社会公益活动，培养学</tspan><tspan x="1750" y="3037">生公德心，提高学生思想道德品质的同时，也</tspan><tspan x="1750" y="3051">弘扬了我校优良的校园文化。起到重要的宣传</tspan><tspan x="1750" y="3065">作用。</tspan></text></g>
<g id="p4-d2"><rect class="b" x="1745" y="3101" width="228" height="107" rx="4"/><text class="t"><tspan x="1750" y="3113">20xx年是一个新的开始，在接下来的工作中</tspan><tspan x="1750" y="3127">，不管再苦再累，我们都要认真的完成，大家</tspan><tspan x="1750" y="3141">选举我们是对我们的信任，做好办公室工作计</tspan><tspan x="1750" y="3155">划，对于我们20xx年一年的工作都有总要的</tspan><tspan x="1750" y="3169">意义，大家要牢记我们的宗旨，为广大的学生</tspan><tspan x="1750" y="3183">服务，以学生的利益为中心，希望我们20xx</tspan><tspan x="1750" y="3197">年能更上一层楼。</tspan></text></g>

<g id="watermarks" pointer-events="none">
<text class="w" text-anchor="middle" transform="translate(649,519) rotate(-30)">树图 <tspan class="ws">shutu.cn</tspan></text>
<text class="w" text-anchor="middle" transform="translate(1923,513) rotate(-30)">树图 <tspan class="ws">shutu.cn</tspan></text>
<text class="w" text-anchor="middle" transform="translate(649,1497) rotate(-30)">树图 <tspan class="ws">shutu.cn</tspan></text>
<text class="w" text-anchor="middle" transform="translate(1925,1507) rotate(-30)">树图 <tspan class="ws">shutu.cn</tspan></text>
<text class="w" text-anchor="middle" transform="translate(649,2501) rotate(-30)">树图 <tspan class="ws">shutu.cn</tspan></text>
<text class="w" text-anchor="middle" transform="translate(1925,2491) rotate(-30)">树图 <tspan class="ws">shutu.cn</tspan></text>
</g>
</svg>
